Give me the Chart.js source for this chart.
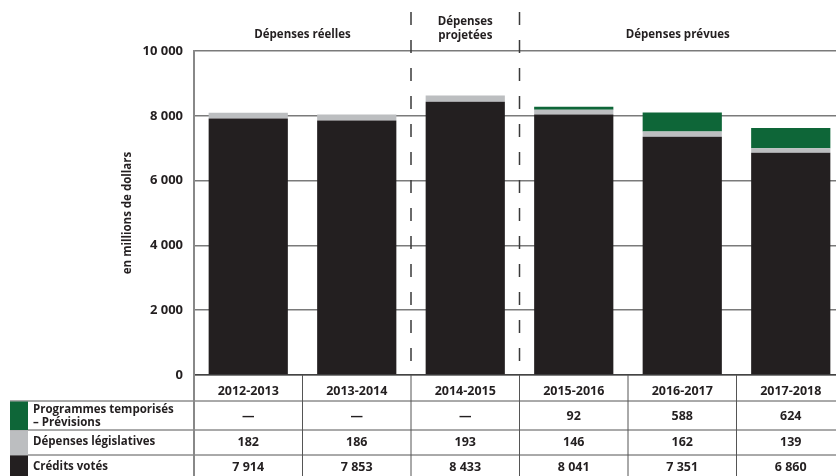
<!DOCTYPE html>
<html lang="fr">
<head>
<meta charset="utf-8">
<script src="https://cdn.jsdelivr.net/npm/chart.js@4.4.1/dist/chart.umd.min.js"></script>
<style>
  html, body { margin: 0; padding: 0; background: #fff; overflow: hidden; }
  #wrap { width: 836px; height: 476px; overflow: hidden; position: relative; }
  canvas { display: block; }
</style>
</head>
<body>
<div id="wrap"><canvas id="chart" width="846" height="476"></canvas></div>
<script>
// donnees (en millions de dollars)
const years = ['2012-2013', '2013-2014', '2014-2015', '2015-2016', '2016-2017', '2017-2018'];
const creditsVotes = [7914, 7853, 8433, 8041, 7351, 6860];
const depensesLegislatives = [182, 186, 193, 146, 162, 139];
const programmesTemporises = [null, null, null, 92, 588, 624];
const yTicks = [0, 2000, 4000, 6000, 8000, 10000];

const INK = '#231f20';
const GREY = '#bcbec0';
const GREEN = '#0e6638';
const FONT = '"Open Sans", "DejaVu Sans", sans-serif';

function fmt(v) {
    if (v === null || v === undefined) return '\u2014';
    return String(v).replace(/\B(?=(\d{3})+(?!\d))/g, ' ');
}

// lignes du tableau : libelle, couleur, valeurs
const tableRows = [
    { label: ['Programmes temporisés', '– Prévisions'], color: GREEN, values: programmesTemporises },
    { label: ['Dépenses législatives'], color: GREY, values: depensesLegislatives },
    { label: ['Crédits votés'], color: INK, values: creditsVotes }
];

const decorPlugin = {
    id: 'decor',
    afterDraw(chart) {
        const ctx = chart.ctx;
        const x = chart.scales.x;
        const area = chart.chartArea;
        const half = (x.getPixelForValue(1) - x.getPixelForValue(0)) / 2;
        const edge = i => x.getPixelForValue(i) - half;
        const visibleRight = 836;

        ctx.save();

        // lignes pointillees
        ctx.strokeStyle = '#3a3a3a';
        ctx.lineWidth = 1.5;
        ctx.setLineDash([13, 15]);
        [2, 3].forEach(i => {
            ctx.beginPath();
            ctx.moveTo(edge(i), 12);
            ctx.lineTo(edge(i), area.bottom);
            ctx.stroke();
        });
        ctx.setLineDash([]);

        // titres de periodes
        ctx.fillStyle = INK;
        ctx.font = 'bold 11.5px ' + FONT;
        ctx.textAlign = 'center';
        ctx.textBaseline = 'middle';
        ctx.fillText('Dépenses réelles', edge(1), 35);
        ctx.fillText('Dépenses', x.getPixelForValue(2), 22);
        ctx.fillText('projetées', x.getPixelForValue(2), 36);
        ctx.fillText('Dépenses prévues', (edge(3) + visibleRight) / 2, 35);

        // tableau
        const rowTops = [401, 430, 455];
        const rowBottoms = [430, 455, 480];
        ctx.strokeStyle = '#555';
        ctx.lineWidth = 1;
        rowTops.forEach(y => {
            ctx.beginPath();
            ctx.moveTo(10, y);
            ctx.lineTo(chart.width, y);
            ctx.stroke();
        });
        for (let i = 0; i <= years.length; i++) {
            const px = i === 0 ? area.left : edge(i);
            ctx.strokeStyle = i === 0 ? '#888' : '#555';
            ctx.lineWidth = i === 0 ? 2 : 1;
            ctx.beginPath();
            ctx.moveTo(px, area.bottom);
            ctx.lineTo(px, chart.height);
            ctx.stroke();
        }

        tableRows.forEach((row, r) => {
            const top = rowTops[r];
            const bottom = rowBottoms[r];
            ctx.fillStyle = row.color;
            ctx.fillRect(10, top + 0.5, 18, bottom - top - 0.5);

            ctx.fillStyle = INK;
            ctx.font = 'bold 11.5px ' + FONT;
            ctx.textAlign = 'left';
            if (row.label.length === 2) {
                ctx.fillText(row.label[0], 33, top + 9);
                ctx.fillText(row.label[1], 33, top + 22);
            } else {
                ctx.fillText(row.label[0], 33, top + 12);
            }

            ctx.font = 'bold 12.5px ' + FONT;
            ctx.textAlign = 'center';
            row.values.forEach((v, i) => {
                const yMid = r === 0 ? top + 15 : top + 12;
                ctx.fillText(fmt(v), x.getPixelForValue(i), yMid);
            });
        });

        ctx.restore();
    }
};

const ctx = document.getElementById('chart').getContext('2d');
const chart = new Chart(ctx, {
    type: 'bar',
    data: {
        labels: years,
        datasets: [{
            label: 'Crédits votés',
            data: creditsVotes,
            backgroundColor: INK
        }, {
            label: 'Dépenses législatives',
            data: depensesLegislatives,
            backgroundColor: GREY
        }, {
            label: 'Programmes temporisés – Prévisions',
            data: programmesTemporises,
            backgroundColor: GREEN
        }]
    },
    options: {
        responsive: false,
        animation: false,
        devicePixelRatio: 1,
        layout: { padding: { left: 121, top: 51, right: 1, bottom: 0 } },
        datasets: {
            bar: { categoryPercentage: 1, barPercentage: 0.73, borderWidth: 0 }
        },
        scales: {
            x: {
                stacked: true,
                grid: { display: false },
                border: { display: true, color: '#444', width: 1.5 },
                ticks: {
                    color: INK,
                    padding: 1,
                    font: { family: FONT, size: 12.5, weight: 'bold' }
                },
                afterFit(scale) { scale.height = 101; }
            },
            y: {
                stacked: true,
                min: 0,
                max: 10000,
                afterBuildTicks(scale) { scale.ticks = yTicks.map(v => ({ value: v })); },
                grid: { color: '#7a7a7a', lineWidth: 1.5, drawTicks: false },
                border: { display: true, color: '#888', width: 2 },
                ticks: {
                    color: INK,
                    padding: 11,
                    font: { family: FONT, size: 13, weight: 'bold' },
                    callback: v => fmt(v)
                },
                title: {
                    display: true,
                    text: 'en millions de dollars',
                    color: INK,
                    padding: 0,
                    font: { family: FONT, size: 11.5, weight: 'bold' }
                },
                afterFit(scale) { scale.width = 73; }
            }
        },
        plugins: {
            legend: { display: false },
            tooltip: { enabled: false }
        }
    },
    plugins: [decorPlugin]
});
</script>
</body>
</html>
